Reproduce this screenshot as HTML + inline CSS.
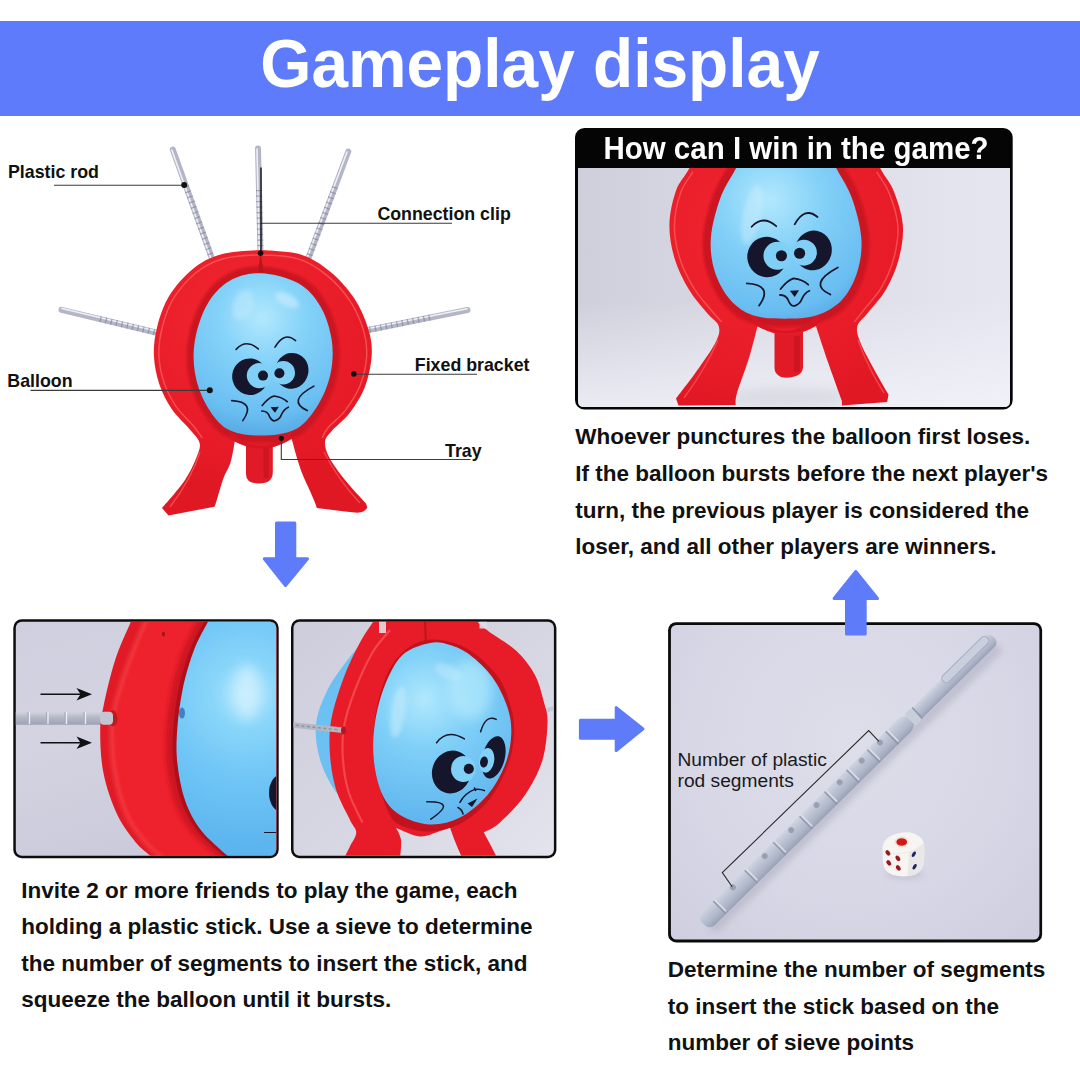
<!DOCTYPE html>
<html><head><meta charset="utf-8">
<style>
html,body{margin:0;padding:0;background:#fff;}
body{width:1080px;height:1080px;position:relative;overflow:hidden;font-family:"Liberation Sans",sans-serif;}
.abs{position:absolute;}
#banner{left:0;top:21px;width:1080px;height:95px;background:#5e7bfb;}
#title{transform:scaleY(1.045);transform-origin:50% 49%;left:0;top:15.5px;width:1080px;height:95px;line-height:95px;text-align:center;color:#fff;font-weight:bold;font-size:65.8px;white-space:nowrap;}
.t{position:absolute;white-space:nowrap;color:#111;line-height:1;}
.b{font-weight:bold;}
.lab{font-size:17.8px;font-weight:bold;}
.para{font-size:22.5px;font-weight:bold;line-height:36.6px;}
svg{position:absolute;left:0;top:0;}
</style></head><body>
<div class="abs" id="banner"></div>
<div class="abs" id="title"><span id="ts">Gameplay display</span></div>

<svg width="1080" height="1080" viewBox="0 0 1080 1080">
<defs>
  <linearGradient id="gRod" x1="0" y1="0" x2="0" y2="1">
    <stop offset="0" stop-color="#d2d5de"/>
    <stop offset="0.45" stop-color="#b4b8c6"/>
    <stop offset="1" stop-color="#9da1b2"/>
  </linearGradient>
  <filter id="blur1" x="-10%" y="-10%" width="120%" height="120%"><feGaussianBlur stdDeviation="1.2"/></filter>
  <!-- face: local coords, origin between the eyes -->
  <g id="face">
    <ellipse cx="-20.2" cy="2.8" rx="17.8" ry="18.3" fill="#15152b" transform="rotate(-15 -20.2 2.8)"/>
    <circle cx="-10.8" cy="1.7" r="12.6" fill="#80cff7"/>
    <circle cx="-7.2" cy="1.7" r="5" fill="#15152b"/>
    <ellipse cx="21.5" cy="-3.1" rx="16.7" ry="18" fill="#15152b" transform="rotate(15 21.5 -3.1)"/>
    <circle cx="13.1" cy="-1.1" r="11.7" fill="#80cff7"/>
    <circle cx="9.2" cy="-0.6" r="5" fill="#15152b"/>
    <g fill="none" stroke="#15152b" stroke-width="1.6" stroke-linecap="round">
      <path d="M-34.1 -24.5 Q-24 -35.5 -11.9 -25"/>
      <path d="M4.8 -26.7 Q14 -43 25.4 -33.3"/>
      <path d="M-38.5 26.7 Q-14 28 -27.4 46.7"/>
      <path d="M43.7 12.2 Q16 27 37 36.7"/>
      <path d="M-8 31.7 Q-2 24 3.7 22.1 Q12 23 17 27.8"/>
      <path d="M-8.5 37.1 Q-2.5 37 -0.5 43 Q2 48 5.4 46.7 Q10 45 11.5 40.1 Q14 35 18.1 33.3"/>
    </g>
    <path d="M0.4 33.3 L8.7 32.8 L4.8 38.9 Z" fill="#15152b"/>
  </g>
</defs>

<!-- ======== TOY 1 (top-left, white bg) ======== -->
<defs>
  <radialGradient id="gRing1" gradientUnits="userSpaceOnUse" cx="240" cy="320" r="170">
    <stop offset="0" stop-color="#f02630"/><stop offset="0.7" stop-color="#e81c28"/><stop offset="1" stop-color="#e01824"/>
  </radialGradient>
  <radialGradient id="gBal" gradientUnits="userSpaceOnUse" cx="262" cy="318" r="120">
    <stop offset="0" stop-color="#b2e8fd"/><stop offset="0.35" stop-color="#86d3f9"/><stop offset="0.8" stop-color="#6abff2"/><stop offset="1" stop-color="#56a9e4"/>
  </radialGradient>
</defs>
<g id="toy1">
  <!-- rods -->
  <g stroke-width="6" stroke-linecap="round" stroke="#b3b6c6">
    <line x1="172.8" y1="149.5" x2="212.5" y2="260"/>
    <line x1="258" y1="148.5" x2="260.5" y2="253"/>
    <line x1="348.3" y1="151.5" x2="308.5" y2="258"/>
    <line x1="61.5" y1="309.8" x2="158" y2="333"/>
    <line x1="467.5" y1="310" x2="366" y2="330.5"/>
  </g>
  <g stroke-width="1.6" stroke-linecap="round" stroke="#eef0f6">
    <line x1="171.8" y1="150" x2="211" y2="259"/>
    <line x1="257" y1="149" x2="259.3" y2="252"/>
    <line x1="347" y1="152" x2="307.5" y2="257"/>
    <line x1="62" y1="308.5" x2="158" y2="331.5"/>
    <line x1="467" y1="308.8" x2="366" y2="329"/>
  </g>
  <g stroke-width="6" stroke="#7f8399" stroke-dasharray="1.3 4.2" opacity="0.65">
    <line x1="186" y1="186" x2="212.5" y2="260"/>
    <line x1="335" y1="187" x2="308.5" y2="258"/>
    <line x1="100" y1="319" x2="158" y2="333"/>
    <line x1="430" y1="317.5" x2="366" y2="330.5"/>
    <line x1="259" y1="190" x2="260.5" y2="253"/>
  </g>
  <!-- stem -->
  <path d="M246 440 H272.8 V472 Q272.8 483.5 259 483.5 Q246 483.5 246 474 Z" fill="#e01a26"/>
  <path d="M266 446 V478" stroke="#c0121e" stroke-width="5" opacity="0.6"/>
  <!-- ring + legs -->
  <path d="M260.6 250 C267.3 250.7 289.1 250.9 300.6 254.4 C312.1 257.9 320.5 263.8 329.4 271.0 C338.3 278.2 347.4 288.2 353.9 297.8 C360.4 307.4 365.3 319.3 368.3 328.9 C371.3 338.5 372.2 346.0 371.7 355.6 C371.1 365.2 368.7 377.1 365.0 386.7 C361.3 396.3 354.9 405.9 349.4 413.3 C343.8 420.7 335.8 426.2 331.7 431.0 C327.6 435.8 325.4 437.5 325.0 442.0 C324.6 446.5 326.1 451.5 329.4 457.8 C332.7 464.1 338.9 472.4 345.0 480.0 C351.1 487.6 362.5 499.6 366.0 503.5 L367.3 507.6 Q364.5 512.6 357.6 512.7 L345 511.5 L316.8 508 C315.8 502.9 308.3 487.6 305.0 480.0 C301.7 472.4 300.5 469.1 298.3 462.2 C296.1 455.3 292.8 442.8 291.7 438.9 Q262 454 235 440 C234.3 443.7 232.6 455.5 230.6 462.2 C228.6 468.9 225.6 471.8 222.8 480.0 C220.0 488.2 215.5 506.2 214.4 506.7 L168.5 515.5 L162 508 C165.8 503.8 179.1 488.8 185.0 480.0 C190.9 471.2 194.8 461.9 197.2 455.6 C199.6 449.3 200.7 446.6 199.4 442.2 C198.1 437.8 194.0 434.4 189.4 428.9 C184.8 423.3 176.7 416.3 171.7 408.9 C166.7 401.5 162.4 393.3 159.4 384.4 C156.4 375.5 154.3 365.2 153.9 355.6 C153.5 346.0 154.6 336.7 157.2 326.7 C159.8 316.7 163.5 305.2 169.4 295.6 C175.3 286.0 184.3 275.8 192.8 268.9 C201.3 262.0 209.3 257.6 220.6 254.4 C231.9 251.2 253.9 250.7 260.6 250.0 Z" fill="url(#gRing1)"/>
  <!-- outer rim highlight -->
  <path d="M202.3 438.1 C200.7 436.0 197.2 430.6 192.9 425.3 C188.5 420.0 180.7 413.3 175.9 406.3 C171.2 399.2 167.0 391.4 164.2 382.9 C161.3 374.4 159.2 364.6 158.9 355.4 C158.5 346.3 159.6 337.4 162.1 327.9 C164.5 318.3 168.0 307.4 173.7 298.2 C179.3 289.0 187.9 279.3 196.0 272.7 C204.2 266.2 211.8 261.9 222.6 259.0 C233.4 256.0 248.0 255.0 260.7 255.0 C273.4 255.0 287.9 255.8 298.8 259.1 C309.7 262.4 317.8 268.0 326.2 274.9 C334.7 281.7 343.4 291.2 349.6 300.4 C355.8 309.5 360.6 320.8 363.4 330.0 C366.3 339.2 367.2 346.2 366.7 355.4 C366.2 364.6 363.8 375.9 360.3 385.1 C356.7 394.3 350.6 403.4 345.3 410.4 C340.0 417.4 332.3 422.6 328.4 427.2 C324.6 431.8 323.2 436.1 322.2 437.9" fill="none" stroke="#ff6b68" stroke-width="1.4" opacity="0.65"/>
  <!-- leg highlights -->
  <path d="M200 452 Q192 478 170 507" fill="none" stroke="#ff6b68" stroke-width="1.3" opacity="0.6"/>
  <path d="M324 452 Q338 480 360 503" fill="none" stroke="#ff6b68" stroke-width="1.3" opacity="0.6"/>
  <!-- inner bevel -->
  <path d="M260.4 266.3 C247.9 265.9 236.2 269.1 226.4 274.7 C216.7 280.3 208.3 289.2 201.9 299.9 C195.5 310.5 190.4 326.2 188.1 338.8 C185.8 351.4 186.2 363.7 188.3 375.4 C190.4 387.1 194.9 399.1 200.8 409.1 C206.8 419.1 214.3 429.8 224.2 435.3 C234.2 440.9 248.0 442.6 260.4 442.6 C272.8 442.6 288.3 441.0 298.8 435.4 C309.3 429.9 317.0 419.2 323.4 409.2 C329.8 399.2 334.7 387.1 337.3 375.4 C339.8 363.7 340.5 351.0 338.6 338.8 C336.7 326.6 332.3 312.7 326.1 302.4 C319.9 292.1 312.5 283.1 301.5 277.1 C290.5 271.1 272.9 266.7 260.4 266.3 Z" fill="#cb1420" filter="url(#blur1)"/>
  <!-- seam -->
  <path d="M260.6 251 L258.3 272 H263.4 Z" fill="#b8161d"/>
  <!-- tray -->
  <path d="M229 430 Q260.6 462 292 430 Q292 437 288 441 Q262 456 233.5 441 Q229.5 437 229 430 Z" fill="#d61622"/>
  <!-- balloon -->
  <path d="M260.6 273.3 C249.1 272.9 238.3 275.8 229.4 281.0 C220.5 286.2 212.9 294.6 207.2 304.4 C201.5 314.2 197.0 328.5 195.0 340.0 C193.0 351.5 193.2 362.6 195.0 373.3 C196.8 384.0 200.6 395.1 206.0 404.4 C211.4 413.7 218.1 423.8 227.2 429.0 C236.3 434.2 249.1 435.6 260.6 435.6 C272.1 435.6 286.4 434.2 296.0 429.0 C305.6 423.8 312.5 413.7 318.3 404.4 C324.1 395.1 328.4 384.0 330.6 373.3 C332.8 362.6 333.4 351.1 331.7 340.0 C330.0 328.9 326.2 316.1 320.6 306.7 C315.0 297.2 308.3 288.9 298.3 283.3 C288.3 277.7 272.1 273.7 260.6 273.3 Z" fill="url(#gBal)"/>
  <ellipse cx="287" cy="300" rx="13" ry="6" fill="#d6f1fe" opacity="0.55" filter="url(#blur2)" transform="rotate(28 287 300)"/>
  <ellipse cx="243" cy="305" rx="10" ry="16" fill="#d6f1fe" opacity="0.35" filter="url(#blur2)" transform="rotate(20 243 305)"/>
  <use href="#face" transform="translate(270.2 373.9)"/>
</g>

<!-- ======== TOP-RIGHT BOX ======== -->
<defs>
  <clipPath id="cpA"><path d="M578 168.1 H1010 V401 Q1010 407 1004 407 H584 Q578 407 578 401 Z"/></clipPath>
  <linearGradient id="gBgA" x1="0" y1="0" x2="1" y2="0">
    <stop offset="0" stop-color="#cfcfdc"/><stop offset="0.5" stop-color="#dcdce7"/><stop offset="1" stop-color="#e6e6f1"/>
  </linearGradient>
  <linearGradient id="gFloorA" x1="0" y1="0" x2="0" y2="1">
    <stop offset="0" stop-color="#f4f4fa" stop-opacity="0"/><stop offset="1" stop-color="#f4f4fa" stop-opacity="0.75"/>
  </linearGradient>
  <radialGradient id="gBal2" gradientUnits="userSpaceOnUse" cx="770" cy="200" r="130">
    <stop offset="0" stop-color="#b2e8fd"/><stop offset="0.4" stop-color="#84d1f8"/><stop offset="0.85" stop-color="#69bdf1"/><stop offset="1" stop-color="#58abe6"/>
  </radialGradient>
  <radialGradient id="gRing2" gradientUnits="userSpaceOnUse" cx="760" cy="230" r="190">
    <stop offset="0" stop-color="#f02630"/><stop offset="0.7" stop-color="#e81c28"/><stop offset="1" stop-color="#e01824"/>
  </radialGradient>
</defs>
<rect x="575" y="128" width="437.7" height="281.6" rx="9.5" fill="#050505"/>
<g clip-path="url(#cpA)">
  <rect x="578" y="167" width="433" height="241" fill="url(#gBgA)"/>
  <rect x="578" y="300" width="432" height="107" fill="url(#gFloorA)"/>
  <ellipse cx="790" cy="398" rx="70" ry="10" fill="#c9c9d4" opacity="0.5" filter="url(#blur5)"/>
  <!-- stem -->
  <path d="M774.5 328 H803 V368 Q802 374 796 376 Q788 379 781 377 Q774.5 374 774.5 368 Z" fill="#e01a26"/>
  <path d="M797 336 V372" stroke="#c0121e" stroke-width="6" opacity="0.55"/>
  <!-- ring + legs -->
  <path d="M860 130 C863.5 136.5 875.1 158.8 880.7 169.0 C886.3 179.2 890.0 181.7 893.7 191.0 C897.4 200.3 901.9 213.6 902.8 224.8 C903.7 236.1 901.7 247.7 898.9 258.5 C896.1 269.3 891.2 280.5 886.0 289.6 C880.8 298.7 872.6 306.9 867.8 313.0 C863.0 319.1 858.7 321.2 857.4 326.0 C856.1 330.8 857.4 334.6 860.0 341.5 C862.6 348.4 868.2 358.5 873.0 367.4 C877.8 376.2 885.9 390.1 888.5 394.6 L887.2 402 L841.9 405.5 L841.9 401 C839.7 395.0 833.2 377.3 828.9 364.8 C824.6 352.3 818.1 332.5 815.9 326.0 Q786 344 757.6 326 C756.1 331.6 752.0 348.4 748.5 359.6 C745.0 370.8 739.0 385.7 736.9 393.3 C734.8 400.9 735.8 403.1 735.6 405.0 L678.5 405.5 L676 398.5 C679.9 393.3 692.6 376.9 699.3 367.4 C706.0 357.9 712.8 348.4 716.0 341.5 C719.2 334.6 720.2 330.8 718.7 326.0 C717.2 321.2 712.0 319.1 707.0 313.0 C702.0 306.9 694.3 298.7 688.9 289.6 C683.5 280.5 677.9 269.3 674.6 258.5 C671.4 247.7 669.2 236.1 669.4 224.8 C669.6 213.6 672.6 200.3 675.9 191.0 C679.1 181.7 683.2 179.2 688.9 169.0 C694.6 158.8 706.5 136.5 710.0 130.0 Z" fill="url(#gRing2)"/>
  <path d="M876.6 171.9 C878.7 175.4 885.5 184.0 889.1 192.9 C892.6 201.8 897.0 214.5 897.8 225.2 C898.6 236.0 896.7 247.2 894.0 257.5 C891.3 267.8 886.6 278.5 881.6 287.2 C876.6 295.9 868.7 303.7 864.2 309.5 C859.6 315.4 856.0 320.0 854.3 322.1" fill="none" stroke="#ff6b68" stroke-width="1.5" opacity="0.6"/>
  <path d="M721.7 322.0 C719.8 319.9 715.3 315.3 710.6 309.5 C705.8 303.7 698.4 295.8 693.3 287.1 C688.1 278.5 682.6 267.8 679.5 257.5 C676.3 247.1 674.2 236.0 674.4 225.2 C674.6 214.5 677.4 201.8 680.5 192.9 C683.7 184.0 691.0 175.3 693.0 171.8" fill="none" stroke="#ff6b68" stroke-width="1.5" opacity="0.6"/>
  <path d="M718 340 Q706 368 684 398" fill="none" stroke="#ff6b68" stroke-width="1.4" opacity="0.55"/>
  <path d="M858 340 Q868 368 884 393" fill="none" stroke="#ff6b68" stroke-width="1.4" opacity="0.55"/>
  <path d="M786.0 120.0 C773.8 120.0 758.5 125.4 749.3 132.5 C740.1 139.6 736.8 152.2 730.7 162.6 C724.7 173.1 717.6 182.5 713.0 195.1 C708.3 207.6 703.8 224.7 702.9 238.1 C702.0 251.4 704.0 263.8 707.7 275.1 C711.4 286.5 718.0 298.1 725.2 306.1 C732.4 314.1 740.8 319.6 750.7 323.0 C760.6 326.5 773.3 326.7 784.7 326.7 C796.0 326.7 808.4 326.5 818.8 323.1 C829.2 319.7 839.5 314.1 847.1 306.1 C854.7 298.1 860.8 286.5 864.5 275.1 C868.2 263.8 870.2 251.4 869.3 238.1 C868.4 224.8 863.8 207.6 859.2 195.1 C854.6 182.5 847.7 173.1 841.6 162.7 C835.5 152.2 832.0 139.6 822.7 132.5 C813.4 125.4 798.2 120.0 786.0 120.0 Z" fill="#cb1420" filter="url(#blur1)"/>
  <!-- tray -->
  <path d="M750 312 Q785 350 820 312 Q820 322 815 326 Q786 341 757 326 Q751 322 750 312 Z" fill="#d61622"/>
  <!-- balloon -->
  <path d="M786.0 128.0 C774.7 128.0 760.4 133.2 752.0 140.0 C743.6 146.8 740.9 159.2 735.6 169.0 C730.3 178.8 724.1 187.4 720.0 198.9 C715.9 210.4 711.8 225.7 710.9 237.8 C710.0 249.9 711.5 261.1 714.8 271.5 C718.0 281.9 723.9 292.6 730.4 300.0 C736.9 307.4 744.6 312.5 753.7 315.6 C762.8 318.7 774.4 318.7 784.8 318.7 C795.2 318.7 806.5 318.7 816.0 315.6 C825.5 312.5 835.0 307.4 841.9 300.0 C848.8 292.6 854.2 281.9 857.4 271.5 C860.6 261.1 862.2 249.9 861.3 237.8 C860.4 225.7 856.3 210.4 852.2 198.9 C848.1 187.4 842.1 178.8 836.7 169.0 C831.3 159.2 828.5 146.8 820.0 140.0 C811.5 133.2 797.3 128.0 786.0 128.0 Z" fill="url(#gBal2)"/>
  <ellipse cx="752" cy="215" rx="9" ry="30" fill="#d6f1fe" opacity="0.4" filter="url(#blur2)" transform="rotate(12 752 215)"/>
  <use href="#face" transform="translate(789.4 253.9) scale(1.108)"/>
</g>

<!-- ======== PANEL 1 (close-up) ======== -->
<defs>
  <clipPath id="cpB"><rect x="15.8" y="621.8" width="260.4" height="234" rx="6"/></clipPath>
  <linearGradient id="gBgB" x1="0" y1="0" x2="0.3" y2="1">
    <stop offset="0" stop-color="#cfcfdf"/><stop offset="0.5" stop-color="#d3d3e1"/><stop offset="1" stop-color="#cbcbdb"/>
  </linearGradient>
  <radialGradient id="gBalB" gradientUnits="userSpaceOnUse" cx="246" cy="695" r="150">
    <stop offset="0" stop-color="#b8ebfd"/><stop offset="0.22" stop-color="#8ad6fa"/><stop offset="0.55" stop-color="#70c6f6"/><stop offset="1" stop-color="#5cb5ee"/>
  </radialGradient>
  <filter id="blur2" x="-30%" y="-30%" width="160%" height="160%"><feGaussianBlur stdDeviation="2.2"/></filter>
  <filter id="blur5" x="-50%" y="-50%" width="200%" height="200%"><feGaussianBlur stdDeviation="6"/></filter>
</defs>
<rect x="13.3" y="619.3" width="265.4" height="239" rx="8.5" fill="#0d0d0d"/>
<g clip-path="url(#cpB)">
  <rect x="15" y="621" width="263" height="236" fill="url(#gBgB)"/>
  <!-- rod -->
  <rect x="10" y="711.8" width="106" height="13" rx="4" fill="url(#gRod)"/>
  <g stroke="#a9adbc" stroke-width="1.3"><path d="M28 712V725M46.5 712V725M65 712V725M84 712V725M102 712V725"/></g>
  <g stroke="#eceef4" stroke-width="1.3"><path d="M29.5 712V724M48 712V724M66.5 712V724M85.5 712V724"/></g>
  <!-- ring -->
  <path d="M134.0 612.0 C133.5 613.6 134.0 613.7 130.8 621.8 C127.6 629.9 119.5 646.4 115.0 660.4 C110.5 674.4 106.1 693.6 103.6 705.7 C101.1 717.8 100.2 721.6 100.2 733.0 C100.2 744.4 100.8 760.2 103.6 773.8 C106.4 787.4 111.9 803.2 117.2 814.6 C122.5 826.0 129.7 834.9 135.4 841.9 C141.1 848.9 146.4 852.2 151.3 856.6 C156.2 861.0 162.7 866.1 165.0 868.0 L300 868 L300 612 Z" fill="#e21a26"/>
  <path d="M148.0 612.0 C147.5 613.6 148.0 613.7 144.8 621.8 C141.6 629.9 134.0 646.4 129.0 660.4 C124.0 674.4 117.6 693.6 114.6 705.7 C111.6 717.8 111.2 721.6 111.2 733.0 C111.2 744.4 112.1 760.2 114.6 773.8 C117.1 787.4 121.2 803.2 126.2 814.6 C131.2 826.0 138.7 834.9 144.4 841.9 C150.1 848.9 155.4 852.2 160.3 856.6 C165.2 861.0 171.7 866.1 174.0 868.0 L300 868 L300 612 Z" fill="#ee222c"/>
  <path d="M148.0 612.0 C147.5 613.6 148.0 613.7 144.8 621.8 C141.6 629.9 134.0 646.4 129.0 660.4 C124.0 674.4 117.6 693.6 114.6 705.7 C111.6 717.8 111.2 721.6 111.2 733.0 C111.2 744.4 112.1 760.2 114.6 773.8 C117.1 787.4 121.2 803.2 126.2 814.6 C131.2 826.0 138.7 834.9 144.4 841.9 C150.1 848.9 155.4 852.2 160.3 856.6 C165.2 861.0 171.7 866.1 174.0 868.0" fill="none" stroke="#ff6a68" stroke-width="2" opacity="0.75" filter="url(#blur2)"/>
  <path d="M202.0 612.0 C201.2 613.6 200.1 615.6 197.0 621.8 C193.9 628.0 187.6 638.0 183.4 649.0 C179.2 660.0 174.8 674.4 172.0 687.6 C169.2 700.8 167.2 715.9 166.3 728.4 C165.4 740.9 165.0 750.4 166.3 762.5 C167.6 774.6 170.3 789.7 174.3 801.0 C178.3 812.3 183.0 821.2 190.2 830.5 C197.4 839.8 210.6 850.4 217.4 856.6 C224.2 862.9 228.7 866.1 231.0 868.0 L300 868 L300 612 Z" fill="#cc1420" filter="url(#blur2)"/>
  <path d="M209.0 612.0 C208.2 613.6 207.1 615.6 204.0 621.8 C200.9 628.0 194.6 638.0 190.4 649.0 C186.2 660.0 181.8 674.4 179.0 687.6 C176.2 700.8 174.2 715.9 173.3 728.4 C172.4 740.9 172.0 750.4 173.3 762.5 C174.6 774.6 177.3 789.7 181.3 801.0 C185.3 812.3 190.0 821.2 197.2 830.5 C204.4 839.8 217.6 850.4 224.4 856.6 C231.2 862.9 235.7 866.1 238.0 868.0 L300 868 L300 612 Z" fill="#b00e1a"/>
  <!-- balloon -->
  <path d="M213.0 612.0 C212.2 613.6 211.1 615.6 208.0 621.8 C204.9 628.0 198.6 638.0 194.4 649.0 C190.2 660.0 185.8 674.4 183.0 687.6 C180.2 700.8 178.2 715.9 177.3 728.4 C176.4 740.9 176.0 750.4 177.3 762.5 C178.6 774.6 181.3 789.7 185.3 801.0 C189.3 812.3 194.0 821.2 201.2 830.5 C208.4 839.8 221.6 850.4 228.4 856.6 C235.2 862.9 239.7 866.1 242.0 868.0 L300 868 L300 612 Z" fill="url(#gBalB)"/>
  <ellipse cx="247" cy="692" rx="13" ry="27" fill="#d2f0fe" opacity="0.75" filter="url(#blur5)"/>
  <ellipse cx="182" cy="713" rx="3" ry="5.5" fill="#2f6fb5" opacity="0.8"/>
  <!-- rod hole -->
  <ellipse cx="113" cy="718.3" rx="4.5" ry="8" fill="#c01a21"/>
  <rect x="100" y="711.8" width="13" height="13" rx="4" fill="#c3c6d2"/>
  <ellipse cx="163.5" cy="634" rx="1.6" ry="2.6" fill="#a8141b"/>
  <!-- face bits -->
  <ellipse cx="282" cy="793" rx="13" ry="19" fill="#15152b"/>
  <path d="M264 832.5 H277" stroke="#15152b" stroke-width="1.2"/>
  <!-- arrows -->
  <g stroke="#111" stroke-width="1.6" fill="#111">
    <path d="M40.5 694.2 H82" fill="none"/><path d="M92 694.2 L76.5 688 L80.5 694.2 L76.5 700.4 Z" stroke="none"/>
    <path d="M40.5 742.7 H82" fill="none"/><path d="M92 742.7 L76.5 736.5 L80.5 742.7 L76.5 748.9 Z" stroke="none"/>
  </g>
</g>

<!-- ======== PANEL 2 (3/4 view) ======== -->
<defs>
  <clipPath id="cpC"><rect x="293.5" y="621.8" width="260.4" height="234" rx="6"/></clipPath>
  <clipPath id="cpBalC"><path d="M430.0 643.0 C422.1 644.7 410.0 648.0 402.5 655.0 C395.0 662.0 389.6 673.8 385.0 685.0 C380.4 696.2 376.9 710.0 375.0 722.5 C373.1 735.0 372.5 747.9 373.8 760.0 C375.0 772.1 378.1 785.8 382.5 795.0 C386.9 804.2 392.1 810.1 400.0 815.0 C407.9 819.9 420.0 824.1 430.0 824.5 C440.0 824.9 450.4 822.4 460.0 817.5 C469.6 812.6 480.0 803.8 487.5 795.0 C495.0 786.2 501.0 775.0 505.0 765.0 C509.0 755.0 510.8 744.6 511.2 735.0 C511.7 725.4 510.6 717.1 507.5 707.5 C504.4 697.9 498.8 686.2 492.5 677.5 C486.2 668.8 477.1 660.4 470.0 655.0 C462.9 649.6 456.7 647.0 450.0 645.0 C443.3 643.0 437.9 641.3 430.0 643.0 Z"/></clipPath>
  <linearGradient id="gBgC" x1="0" y1="0" x2="1" y2="1">
    <stop offset="0" stop-color="#cdcddc"/><stop offset="0.6" stop-color="#d8d8e4"/><stop offset="1" stop-color="#e4e4ee"/>
  </linearGradient>
  <radialGradient id="gBalC" gradientUnits="userSpaceOnUse" cx="425" cy="700" r="120">
    <stop offset="0" stop-color="#b0e8fd"/><stop offset="0.4" stop-color="#80d0f8"/><stop offset="1" stop-color="#60b6ee"/>
  </radialGradient>
</defs>
<rect x="291" y="619.3" width="265.4" height="239" rx="8.5" fill="#0d0d0d"/>
<g clip-path="url(#cpC)">
  <rect x="292" y="621" width="264" height="236" fill="url(#gBgC)"/>
  <!-- back balloon -->
  <path d="M365.0 640.0 C362.1 643.3 353.8 651.7 347.5 660.0 C341.2 668.3 332.7 679.6 327.5 690.0 C322.3 700.4 317.7 711.7 316.2 722.5 C314.8 733.3 316.2 744.6 318.8 755.0 C321.2 765.4 326.5 776.7 331.2 785.0 C336.0 793.3 344.8 801.7 347.5 805.0 L370.0 805.0 L370.0 640.0 Z" fill="#6cc0f2"/>
  <!-- right rod stub -->
  <path d="M545 711 L556 707.5" stroke="#c3c6d3" stroke-width="4"/>
  <!-- small clear rods at top -->
  <!-- ring silhouette -->
  <path d="M376.2 617.5 C373.5 621.7 365.4 632.5 360.0 642.5 C354.6 652.5 348.5 664.6 343.8 677.5 C339.0 690.4 333.5 707.1 331.2 720.0 C329.0 732.9 329.2 743.3 330.0 755.0 C330.8 766.7 332.9 779.2 336.2 790.0 C339.6 800.8 346.7 812.9 350.0 820.0 C353.3 827.1 356.2 828.1 356.2 832.5 C356.2 836.9 352.1 841.9 350.0 846.2 C347.9 850.6 344.8 856.7 343.8 858.8 L400.0 858.8 C400.2 855.6 401.6 845.1 401.0 840.0 C400.4 834.9 397.0 830.0 396.2 828.0 C400.2 829.4 412.7 836.0 420.0 836.5 C427.3 837.0 435.0 832.5 440.0 831.0 C445.0 829.5 448.3 828.1 450.0 827.5 C450.8 829.8 452.9 836.0 455.0 841.2 C457.1 846.5 461.2 855.8 462.5 858.8 L497.5 858.8 C496.5 856.7 493.5 850.6 491.2 846.2 C489.0 841.9 485.0 834.8 483.8 832.5 C486.5 830.8 493.1 828.8 500.0 822.5 C506.9 816.2 517.9 805.4 525.0 795.0 C532.1 784.6 538.8 772.1 542.5 760.0 C546.2 747.9 547.2 732.1 547.5 722.5 C547.8 712.9 546.1 710.5 544.0 702.5 C541.9 694.5 539.4 683.4 534.8 674.8 C530.1 666.1 524.0 658.0 516.2 650.8 C508.5 643.5 495.8 636.8 488.5 631.2 C481.2 625.7 475.2 619.8 472.5 617.5 Z" fill="#e81c28"/>
  <!-- side band highlight ridge -->
  <path d="M390.0 630.0 C387.1 633.8 378.3 642.5 372.5 652.5 C366.7 662.5 359.8 677.5 355.0 690.0 C350.2 702.5 345.8 715.8 343.8 727.5 C341.8 739.2 342.2 749.2 343.0 760.0 C343.8 770.8 345.5 782.1 348.8 792.5 C352.0 802.9 360.2 817.5 362.5 822.5" fill="none" stroke="#f9595a" stroke-width="2.2" opacity="0.7"/>
  <!-- opening (dark inner) -->
  <path d="M426.2 640.0 C415.0 641.7 405.0 649.2 397.5 657.5 C390.0 665.8 385.2 677.9 381.2 690.0 C377.3 702.1 374.8 716.7 373.8 730.0 C372.7 743.3 372.7 756.7 375.0 770.0 C377.3 783.3 383.3 800.8 387.5 810.0 C391.7 819.2 392.9 821.4 400.0 825.0 C407.1 828.6 419.6 831.9 430.0 831.5 C440.4 831.1 452.5 828.0 462.5 822.5 C472.5 817.0 482.4 808.3 490.0 798.8 C497.6 789.2 504.0 775.6 508.0 765.0 C512.0 754.4 513.5 744.6 514.0 735.0 C514.5 725.4 513.8 717.3 511.0 707.5 C508.2 697.7 505.2 686.2 497.5 676.2 C489.8 666.2 476.9 653.5 465.0 647.5 C453.1 641.5 437.5 638.3 426.2 640.0 Z" fill="#c2121e"/>
  <!-- front face of ring on the right: lighter -->
  <rect x="379" y="620" width="7" height="13" fill="#e6e8f0" opacity="0.85"/>
  <rect x="479.5" y="620" width="7.5" height="8.5" fill="#dcdee8" opacity="0.9"/>
  <!-- seam -->
  <path d="M425 621 L426 643" stroke="#b8161d" stroke-width="2"/>
  <!-- left rod -->
  <path d="M293 725 L343 730.3" stroke="#b4b7c4" stroke-width="5.5" stroke-linecap="round"/>
  <path d="M296 725.3 L338 729.8" stroke="#8e92a3" stroke-width="1.4" stroke-dasharray="3 2.5"/>
  <ellipse cx="343.5" cy="730.5" rx="2.5" ry="4" fill="#b5171e"/>
  <!-- front balloon -->
  <path d="M430.0 643.0 C422.1 644.7 410.0 648.0 402.5 655.0 C395.0 662.0 389.6 673.8 385.0 685.0 C380.4 696.2 376.9 710.0 375.0 722.5 C373.1 735.0 372.5 747.9 373.8 760.0 C375.0 772.1 378.1 785.8 382.5 795.0 C386.9 804.2 392.1 810.1 400.0 815.0 C407.9 819.9 420.0 824.1 430.0 824.5 C440.0 824.9 450.4 822.4 460.0 817.5 C469.6 812.6 480.0 803.8 487.5 795.0 C495.0 786.2 501.0 775.0 505.0 765.0 C509.0 755.0 510.8 744.6 511.2 735.0 C511.7 725.4 510.6 717.1 507.5 707.5 C504.4 697.9 498.8 686.2 492.5 677.5 C486.2 668.8 477.1 660.4 470.0 655.0 C462.9 649.6 456.7 647.0 450.0 645.0 C443.3 643.0 437.9 641.3 430.0 643.0 Z" fill="url(#gBalC)"/>
  <ellipse cx="398" cy="712" rx="7" ry="26" fill="#c9ecfd" opacity="0.55" filter="url(#blur2)" transform="rotate(8 398 712)"/>
  <ellipse cx="448" cy="672" rx="14" ry="7" fill="#c9ecfd" opacity="0.45" filter="url(#blur2)" transform="rotate(25 448 672)"/>
  <ellipse cx="470" cy="690" rx="22" ry="30" fill="#bdeefd" opacity="0.6" filter="url(#blur5)" clip-path="url(#cpBalC)"/>
  <!-- face -->
  <g clip-path="url(#cpBalC)">
    <ellipse cx="451.5" cy="772" rx="19.4" ry="21.6" fill="#15152b" transform="rotate(18 451.5 772)"/>
    <ellipse cx="463.3" cy="769" rx="12.3" ry="13" fill="#80d0f8"/>
    <circle cx="468.8" cy="768.8" r="5.1" fill="#15152b"/>
    <ellipse cx="493.6" cy="757.3" rx="11.2" ry="21.6" fill="#15152b" transform="rotate(14 493.6 757.3)"/>
    <ellipse cx="486.6" cy="760.3" rx="7.6" ry="12.4" fill="#80d0f8" transform="rotate(8 486.6 760.3)"/>
    <ellipse cx="484" cy="762" rx="3.9" ry="5.6" fill="#15152b" transform="rotate(8 484 762)"/>
    <g fill="none" stroke="#15152b" stroke-width="1.5" stroke-linecap="round">
      <path d="M436.6 742.8 Q447 728.5 464.4 738.9"/>
      <path d="M480.6 731.7 Q486 714 496.2 719.4"/>
      <path d="M426.8 801.7 Q458 801 430.7 819.2"/>
      <path d="M459.9 802.4 Q465 793 474.8 789.4 Q480 788.5 484.5 790.7"/>
      <path d="M458 807.5 Q462 809.5 463 814"/>
      <path d="M474.5 788 L475.5 790.5"/>
    </g>
    <path d="M467.5 803.5 L477.5 798.5 L472 807 Z" fill="#15152b"/>
    </g>
  </g>
</g>

<!-- ======== PANEL 3 (rod + dice) ======== -->
<defs>
  <clipPath id="cpD"><rect x="670.9" y="625" width="368.5" height="314.6" rx="5.5"/></clipPath>
  <radialGradient id="gBgD" gradientUnits="userSpaceOnUse" cx="850" cy="740" r="260">
    <stop offset="0" stop-color="#dedeea"/><stop offset="0.6" stop-color="#d7d7e6"/><stop offset="1" stop-color="#cfcfdf"/>
  </radialGradient>
  <linearGradient id="gRodD" x1="0" y1="0" x2="0" y2="1">
    <stop offset="0" stop-color="#cfd5e1"/><stop offset="0.3" stop-color="#bfc6d5"/><stop offset="0.7" stop-color="#adb5c8"/><stop offset="1" stop-color="#99a1b6"/>
  </linearGradient>
  <filter id="blur3" x="-10%" y="-100%" width="120%" height="300%"><feGaussianBlur stdDeviation="3"/></filter>
</defs>
<rect x="668.1" y="622.2" width="374" height="320.2" rx="8" fill="#0a0a0a"/>
<g clip-path="url(#cpD)">
  <rect x="670" y="624" width="371" height="318" fill="url(#gBgD)"/>
  <g transform="translate(704 923) rotate(-44.57)">
    <!-- shadow -->
    <rect x="0" y="4" width="405" height="12" rx="6" fill="#b9b9cb" filter="url(#blur3)" opacity="0.8"/>
    <!-- thin upper part -->
    <rect x="285" y="-7.2" width="122" height="14.4" rx="6" fill="url(#gRodD)"/>
    <!-- thick lower part -->
    <rect x="-1" y="-9.2" width="290" height="18.2" rx="7" fill="url(#gRodD)"/>
    <!-- collar -->
    <rect x="289" y="-8" width="9" height="16" rx="2" fill="#c9cedb"/>
    <path d="M299.5 -7.5V7.5" stroke="#8f96aa" stroke-width="1.4"/>
    <!-- clip at the tip -->
    <rect x="340" y="-8.6" width="62" height="8.6" rx="4" fill="#c9cfdc" stroke="#a7aec0" stroke-width="1"/>
    <!-- grooves -->
    <g stroke="#8e95a9" stroke-width="1.6" opacity="0.85">
      <path d="M22 -9V9M66 -9V9M106 -9V9M143 -9V9M178 -9V9M209 -9V9M238 -9V9M264 -9V9"/>
    </g>
    <g stroke="#dde1ea" stroke-width="1.6" opacity="0.9">
      <path d="M24 -9V7M68 -9V7M108 -9V7M145 -9V7M180 -9V7M211 -9V7M240 -9V7M266 -9V7"/>
    </g>
    <g fill="#9aa0b2">
      <circle cx="45.6" cy="-5" r="2.9"/><circle cx="90.2" cy="-5" r="2.9"/><circle cx="127.3" cy="-5" r="2.9"/><circle cx="162.9" cy="-5" r="2.9"/><circle cx="195.4" cy="-5" r="2.9"/><circle cx="226.3" cy="-5" r="2.9"/><circle cx="252" cy="-5" r="2.9"/>
    </g>
  </g>
  <!-- bracket line -->
  <path d="M732.2 886.7 L722.3 872.6 L868.7 730.6 L878.9 741.4" fill="none" stroke="#2a2a2a" stroke-width="1.1"/>
  <!-- dice -->
  <g>
    <ellipse cx="905" cy="874" rx="19" ry="5" fill="#bfbfd0" filter="url(#blur3)" opacity="0.8"/>
    <path d="M882.5 850 Q882 841 889 837 Q899 831.5 910 832.5 Q920 834 923.5 842 Q925 850 924 862 Q923 871 915 874.5 Q904 878 893 875 Q884 872 883 863 Z" fill="#f6f5f1"/>
    <path d="M909 852 Q917 850 924 843 Q925 852 924 862 Q923 871 915 874.5 Q911 876 907.5 876.3 Q908.5 864 909 852 Z" fill="#e9e8e6"/>
    <path d="M883 850 Q895 856 909 852 Q917 850 924 843" fill="none" stroke="#ecebe6" stroke-width="1.2"/>
    <ellipse cx="901.7" cy="842" rx="5.4" ry="3.8" fill="#d01a18"/>
    <ellipse cx="901.7" cy="842" rx="6.6" ry="4.8" fill="none" stroke="#f6b9b0" stroke-width="0.8" opacity="0.8"/>
    <g fill="#a3161c">
      <ellipse cx="887.9" cy="852.9" rx="2" ry="3" transform="rotate(-35 887.9 852.9)"/>
      <ellipse cx="897.9" cy="858.3" rx="2" ry="3" transform="rotate(-35 897.9 858.3)"/>
      <ellipse cx="888.8" cy="862.9" rx="2" ry="3" transform="rotate(-35 888.8 862.9)"/>
      <ellipse cx="898.3" cy="867.9" rx="2" ry="3" transform="rotate(-35 898.3 867.9)"/>
    </g>
    <g fill="#1f2466">
      <ellipse cx="913.8" cy="854.2" rx="1.6" ry="3" transform="rotate(30 913.8 854.2)"/>
      <ellipse cx="914.6" cy="866.7" rx="1.6" ry="3" transform="rotate(30 914.6 866.7)"/>
    </g>
  </g>
</g>

<!-- ======== label lines ======== -->
<g stroke="#3a3a3a" stroke-width="1.1" fill="none">
  <path d="M54 185.2 H184"/>
  <path d="M452 223.3 H261"/>
  <path d="M477 374.3 H354"/>
  <path d="M30.5 390.4 H210"/>
  <path d="M470.5 459.5 H281.3 V438.5"/>
</g>
<path d="M261 167.5 V253" stroke="#111" stroke-width="1.4" fill="none"/>
<g fill="#111">
  <circle cx="184.2" cy="185" r="3"/>
  <circle cx="260.6" cy="253.3" r="2.8"/>
  <circle cx="353.8" cy="374" r="2.8"/>
  <circle cx="209.8" cy="390.2" r="3"/>
  <circle cx="281.3" cy="438.3" r="2.6"/>
</g>

<!-- ======== blue arrows ======== -->
<g fill="#5e7bfa" stroke="#5e7bfa" stroke-width="3" stroke-linejoin="round">
  <path d="M276.5 523 H294.8 V558.7 H307.5 L285.5 585.5 L264.3 558.7 H276.5 Z"/>
  <path d="M580.4 720.2 H616.2 V707.6 L643 728.9 L616.2 750.5 V738.3 H580.4 Z"/>
  <path d="M846.5 634 H865.2 V598.5 H877.5 L855.8 571.5 L834.1 598.5 H846.5 Z"/>
</g>

</svg>

<div class="t lab" style="left:8px;top:164.1px">Plastic rod</div>
<div class="t lab" style="left:377.4px;top:206.1px">Connection clip</div>
<div class="t lab" style="left:414.8px;top:357.2px">Fixed bracket</div>
<div class="t lab" style="left:7.3px;top:372.5px">Balloon</div>
<div class="t lab" style="left:445px;top:442.6px">Tray</div>
<div class="t b" style="left:603.4px;top:134.2px;font-size:29.5px;color:#fff;z-index:3;transform:scaleY(1.045);transform-origin:0 84%">How can I win in the game?</div>
<div class="t para" style="left:575.2px;top:419.3px;line-height:36.67px">Whoever punctures the balloon first loses.<br>If the balloon bursts before the next player's<br>turn, the previous player is considered the<br>loser, and all other players are winners.</div>
<div class="t para" style="left:21.2px;top:872.9px;line-height:36.43px">Invite 2 or more friends to play the game, each<br>holding a plastic stick. Use a sieve to determine<br>the number of segments to insert the stick, and<br>squeeze the balloon until it bursts.</div>
<div class="t para" style="left:667.8px;top:951.9px;line-height:36.65px">Determine the number of segments<br>to insert the stick based on the<br>number of sieve points</div>
<div class="t" style="left:677.5px;top:749px;font-size:19.2px;line-height:21.3px;z-index:3;color:#1a1a1a">Number of plastic<br>rod segments</div>
</body></html>
